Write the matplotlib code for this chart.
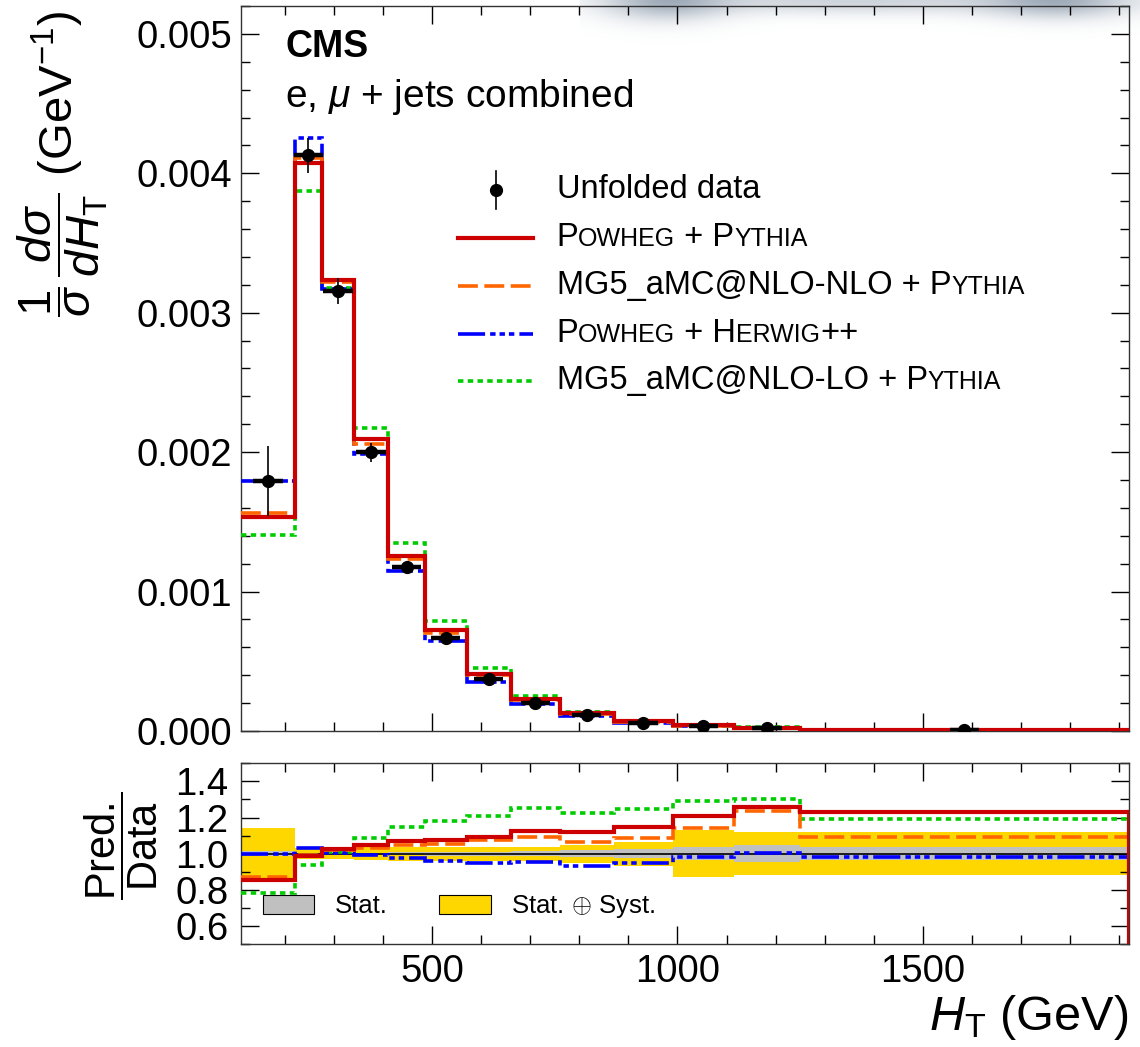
import numpy as np
import matplotlib
matplotlib.use('Agg')
import matplotlib.pyplot as plt
from matplotlib.patches import Patch
from matplotlib.lines import Line2D
from matplotlib.ticker import MultipleLocator, FormatStrFormatter
from matplotlib.offsetbox import AnchoredOffsetbox, HPacker, TextArea, DrawingArea

plt.rcParams['font.family'] = ['Liberation Sans', 'DejaVu Sans']
plt.rcParams['mathtext.fontset'] = 'custom'
plt.rcParams['mathtext.rm'] = 'Liberation Sans'
plt.rcParams['mathtext.it'] = 'Liberation Sans:italic'
plt.rcParams['mathtext.bf'] = 'Liberation Sans:bold'

# H_T binning (GeV)
ht_edges = [110, 220, 275, 340, 410, 485, 570, 660, 760, 870, 990, 1115, 1250, 1920]

# unfolded normalised differential cross section (1/GeV)
data_xsec = [1.795e-3, 4.128e-3, 3.154e-3, 1.998e-3, 1.175e-3, 6.70e-4, 3.73e-4,
             2.03e-4, 1.13e-4, 6.0e-5, 3.4e-5, 2.0e-5, 6.0e-6]

# relative uncertainties of the data
stat_unc = [0.015, 0.006, 0.006, 0.007, 0.008, 0.010, 0.012, 0.015, 0.020, 0.025, 0.035, 0.047, 0.036]
tot_unc = [0.14, 0.03, 0.03, 0.035, 0.04, 0.04, 0.04, 0.04, 0.05, 0.065, 0.13, 0.12, 0.12]

# prediction / data
ratio_powheg_pythia = [0.855, 0.986, 1.025, 1.047, 1.069, 1.076, 1.095, 1.128, 1.120, 1.147, 1.211, 1.257, 1.229]
ratio_amcnlo_pythia = [0.873, 0.995, 1.020, 1.030, 1.051, 1.054, 1.076, 1.095, 1.064, 1.087, 1.143, 1.234, 1.091]
ratio_powheg_herwig = [1.000, 1.030, 1.005, 0.995, 0.975, 0.960, 0.947, 0.953, 0.932, 0.948, 0.981, 1.005, 0.981]
ratio_amclo_pythia = [0.785, 0.938, 1.008, 1.086, 1.146, 1.182, 1.211, 1.252, 1.224, 1.245, 1.290, 1.304, 1.194]

BIG = 23.5
SMALL = 18

edges = np.array(ht_edges, dtype=float)
centers = 0.5 * (edges[:-1] + edges[1:])
data = np.array(data_xsec)
stat = np.array(stat_unc)
tot = np.array(tot_unc)

# label pieces: (text, small caps?)
models = [
    ([('MG5_aMC@NLO-LO + P', 0), ('YTHIA', 1)], ratio_amclo_pythia, '#00cc00', 2.6, (0, (1.5, 1.2)), 3),
    ([('P', 0), ('OWHEG', 1), (' + H', 0), ('ERWIG', 1), ('++', 0)], ratio_powheg_herwig, '#0000ff', 2.6,
     (0, (7.5, 1.4, 1.5, 1.1, 1.5, 1.1, 1.5, 1.4)), 4),
    ([('MG5_aMC@NLO-NLO + P', 0), ('YTHIA', 1)], ratio_amcnlo_pythia, '#ff6600', 2.6, (0, (5.5, 1.8)), 5),
    ([('P', 0), ('OWHEG', 1), (' + P', 0), ('YTHIA', 1)], ratio_powheg_pythia, '#cc0000', 3.0, '-', 6),
]

fig = plt.figure(figsize=(11.4, 10.47), dpi=100)
ax1 = fig.add_axes([0.2114, 0.3018, 0.7787, 0.6925])
ax2 = fig.add_axes([0.2114, 0.0981, 0.7787, 0.1729])
ax1.set_facecolor('none')

# blurry smudge along the top border
haze = fig.add_axes([580 / 1140, 1 - 45 / 1047, 560 / 1140, 45 / 1047], zorder=-1)
hx, hy = np.meshgrid(np.linspace(580, 1140, 300), np.linspace(0, 45, 50))
alpha = (0.55 * np.exp(-((hx - 665) / 60) ** 2 - (hy / 20) ** 2)
         + 0.55 * np.exp(-((hx - 1060) / 70) ** 2 - (hy / 18) ** 2)
         + 0.35 * np.exp(-((hx - 860) / 200) ** 2 - (hy / 14) ** 2))
alpha = np.clip(alpha, 0, 0.7)
rgba = np.zeros(hx.shape + (4,))
rgba[..., 0], rgba[..., 1], rgba[..., 2] = 0.45, 0.52, 0.60
rgba[..., 3] = alpha
haze.imshow(rgba, extent=(580, 1140, 45, 0), aspect='auto', interpolation='bilinear')
haze.set_axis_off()

# upper panel: predictions and data
for parts, ratio, color, lw, ls, z in models:
    ax1.stairs(np.array(ratio) * data, edges, baseline=None, color=color, lw=lw, ls=ls, zorder=z)
ax1.errorbar(centers, data, xerr=30, fmt='none', ecolor='k', elinewidth=3.2, capsize=0, zorder=9)
ax1.errorbar(centers, data, yerr=data * tot, fmt='o', color='k', ms=8.5, elinewidth=1.2,
             capsize=0, zorder=10)

ax1.set_xlim(edges[0], edges[-1])
ax1.set_ylim(0, 0.0052)
ax1.yaxis.set_major_locator(MultipleLocator(0.001))
ax1.yaxis.set_minor_locator(MultipleLocator(0.0002))
ax1.yaxis.set_major_formatter(FormatStrFormatter('%.3f'))
ax1.xaxis.set_major_locator(MultipleLocator(500))
ax1.xaxis.set_minor_locator(MultipleLocator(100))
ax1.tick_params(axis='x', labelbottom=False)
ax1.tick_params(axis='y', labelsize=27.5, pad=6.5)

ax1.set_ylabel(r'$\dfrac{1}{\sigma}\,\dfrac{d\sigma}{dH_{\mathrm{T}}}$ (GeV$^{-1}$)', fontsize=34, loc='top')
ax1.yaxis.set_label_coords(-0.148, 0.993)

ax1.text(0.0496, 0.9297, 'CMS', transform=ax1.transAxes, fontsize=27, fontweight='bold', va='baseline')
ax1.text(0.0496, 0.8607, r'e, $\mu$ + jets combined', transform=ax1.transAxes, fontsize=28, va='baseline')


def legend_row(ax, y_px, handles, parts):
    da = DrawingArea(54, 28, 0, 0)
    for h in handles:
        da.add_artist(h)
    texts = [TextArea(s, textprops=dict(fontsize=SMALL if small else BIG)) for s, small in parts]
    label = HPacker(children=texts, align='baseline', pad=0, sep=0)
    row = HPacker(children=[da, label], align='center', pad=0, sep=17)
    box = AnchoredOffsetbox(loc='center left', child=row, pad=0, borderpad=0, frameon=False,
                            bbox_to_anchor=((458 - 241) / 887.7, 1 - (y_px - 6) / 725),
                            bbox_transform=ax.transAxes)
    ax.add_artist(box)


legend_row(ax1, 190, [Line2D([27, 27], [0, 28], color='k', lw=1.2),
                      Line2D([27], [14], marker='o', color='k', ms=8.5)],
           [('Unfolded data', 0)])
for (parts, ratio, color, lw, ls, z), y_px in zip(models[::-1], [238, 286, 334, 381]):
    legend_row(ax1, y_px, [Line2D([0, 54], [14, 14], color=color, lw=lw, ls=ls)], parts)

# lower panel: ratios
ax2.stairs(1 + tot, edges, baseline=1 - tot, fill=True, color='#ffd700', lw=0, zorder=1)
ax2.stairs(1 + stat, edges, baseline=1 - stat, fill=True, color='#c0c0c0', lw=0, zorder=1.5)
ax2.axhline(1.0, color='k', lw=1.2, zorder=2)
for parts, ratio, color, lw, ls, z in models:
    ax2.stairs(ratio, edges, baseline=None, color=color, lw=lw, ls=ls, zorder=z)
ax2.plot([edges[-1], edges[-1]], [ratio_powheg_pythia[-1], 0], color='#cc0000', lw=3.0, zorder=6)

ax2.set_xlim(edges[0], edges[-1])
ax2.set_ylim(0.5, 1.5)
ax2.yaxis.set_major_locator(MultipleLocator(0.2))
ax2.yaxis.set_minor_locator(MultipleLocator(0.1))
ax2.yaxis.set_major_formatter(FormatStrFormatter('%.1f'))
ax2.xaxis.set_major_locator(MultipleLocator(500))
ax2.xaxis.set_minor_locator(MultipleLocator(100))
ax2.tick_params(axis='y', labelsize=27.5, pad=9)
ax2.tick_params(axis='x', labelsize=27.5, pad=7)

ax2.set_ylabel(r'$\dfrac{\mathrm{Pred.}}{\mathrm{Data}}$', fontsize=30)
ax2.yaxis.set_label_coords(-0.091, 0.543)
ax2.set_xlabel(r'$H_{\mathrm{T}}$ (GeV)', fontsize=35, loc='right', labelpad=2)

band_handles = [Patch(facecolor='#c0c0c0', edgecolor='k', lw=0.8),
                Patch(facecolor='#ffd700', edgecolor='k', lw=0.8)]
ax2.legend(band_handles, ['Stat.', r'Stat. $\oplus$ Syst.'], ncol=2, loc='center left',
           bbox_to_anchor=(0.0248, 0.206), frameon=False, fontsize=18.5,
           handlelength=2.0, handleheight=0.8, handletextpad=0.8, columnspacing=2.0,
           borderpad=0, borderaxespad=0)

for ax in (ax1, ax2):
    ax.tick_params(which='both', direction='in', top=True, right=True, width=1.0, color='k')
    ax.tick_params(which='major', length=13)
    ax.tick_params(which='minor', length=6.5)
    for sp in ax.spines.values():
        sp.set_linewidth(1.0)
        sp.set_color('#333333')

fig.savefig('out.png', dpi=100)
